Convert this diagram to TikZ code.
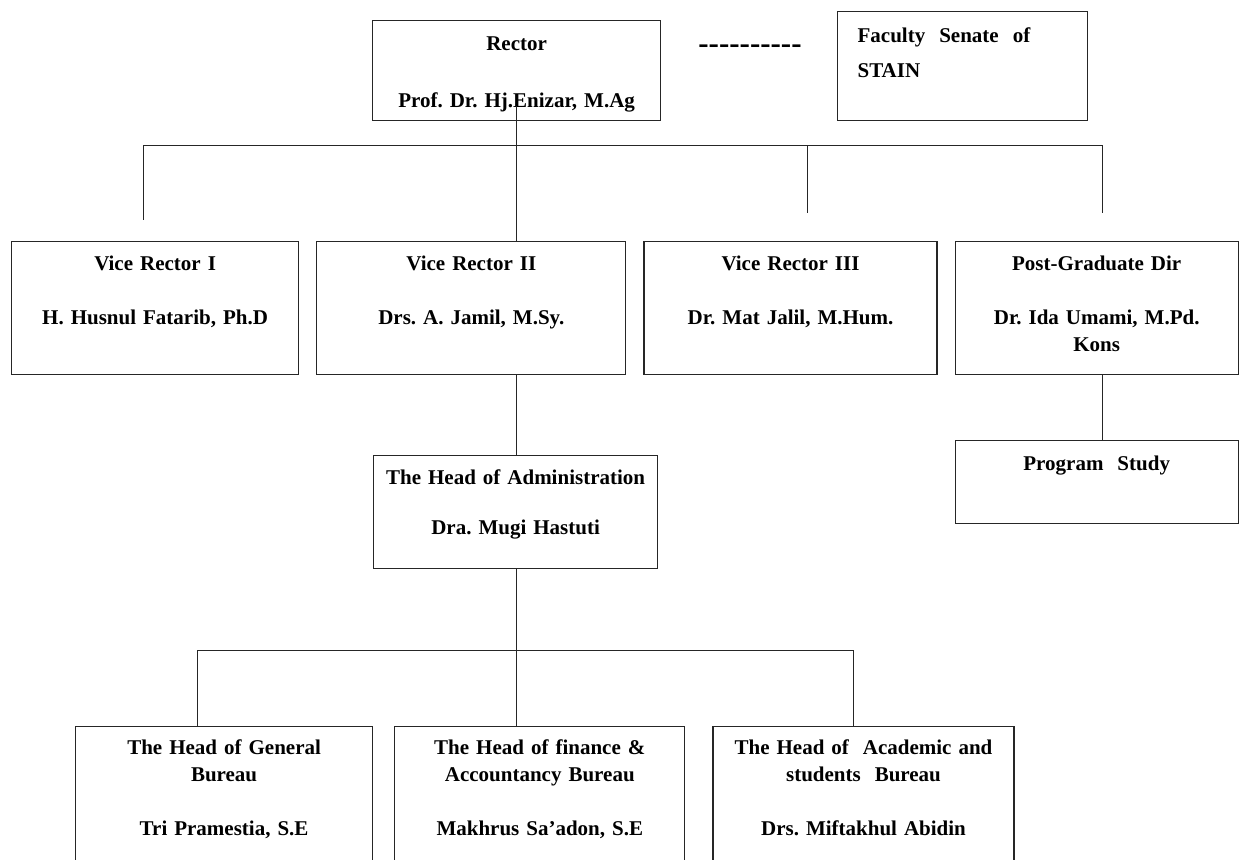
\documentclass[tikz,border=0pt]{standalone}
\usepackage{fontspec}
\setmainfont{Liberation Serif}
\usetikzlibrary{positioning}

\begin{document}
\begin{tikzpicture}[
    x=0.5pt,y=-0.5pt,
    node distance=8pt,
    box/.style={draw=black!85,line width=0.6pt,inner xsep=4pt,inner ysep=0pt,
                align=center,font=\fontsize{10.5}{13.5}\selectfont\bfseries\frenchspacing},
    vrbox/.style={box,text height=14.5pt,text depth=52pt},
    lowbox/.style={box,text height=14pt,text depth=80pt},
    link/.style={draw=black!85,line width=0.5pt}
  ]
    \clip (0,0) rectangle (1242,859);

    % rector and senate
    \node[box,anchor=north west,text width=136pt,text height=15pt,text depth=35pt] (rector) at (372,20)
          {Rector\\[15pt]Prof. Dr. Hj.Enizar, M.Ag};
    \node[box,anchor=north west,align=left,inner xsep=10pt,text width=105pt,
          text height=15.5pt,text depth=39pt] (senate) at (837,11)
          {Faculty~ Senate~ of\\[4pt]STAIN};
    \node[font=\fontsize{15.5}{16}\selectfont\bfseries] (dashes) at (750,49) {-{}-{}-{}-{}-{}-{}-{}-{}-{}-};

    % vice rectors
    \node[vrbox,anchor=north west,text width=135.5pt] (vr1) at (11,241)
          {Vice Rector I\\[13.5pt]H. Husnul Fatarib, Ph.D};
    \node[vrbox,text width=146.5pt,right=8.5pt of vr1] (vr2)
          {Vice Rector II\\[13.5pt]Drs. A. Jamil, M.Sy.};
    \node[vrbox,text width=138.5pt,right=8.5pt of vr2] (vr3)
          {Vice Rector III\\[13.5pt]Dr. Mat Jalil, M.Hum.};
    \node[vrbox,text width=133.5pt,right=8.5pt of vr3] (pgd)
          {Post-Graduate Dir\\[13.5pt]Dr. Ida Umami, M.Pd.\\Kons};
    \node[box,text width=133.5pt,text height=15pt,text depth=26.5pt,below=32.5pt of pgd] (prog)
          {Program~ Study};

    % administration
    \node[box,anchor=north west,text width=134pt,text height=14.5pt,text depth=42pt] (admin) at (373,455)
          {The Head of Administration\\[11.5pt]Dra. Mugi Hastuti};

    % bureaus
    \node[lowbox,anchor=north west,text width=140.5pt] (gen) at (75,726)
          {The Head of General\\Bureau\\[13.5pt]Tri Pramestia, S.E};
    \node[lowbox,text width=137pt,right=10.5pt of gen] (fin)
          {The Head of finance \&\\Accountancy Bureau\\[13.5pt]Makhrus Sa’adon, S.E};
    \node[lowbox,text width=142.5pt,right=13.5pt of fin] (aca)
          {The Head of~ Academic and\\students~ Bureau\\[13.5pt]Drs. Miftakhul Abidin};

    % connectors
    \coordinate (busL) at (143,145);
    \coordinate (busR) at (1102,145);
    \coordinate (d1) at (143,220);
    \coordinate (d3) at (807,213);
    \coordinate (d4) at (1102,213);
    \coordinate (b1) at (197,650);
    \coordinate (b3) at (853,650);
    \draw[link] (busL) -- (busR);
    \draw[link] (busL) -- (d1);
    \draw[link] (d3 |- busL) -- (d3);
    \draw[link] (busR) -- (d4);
    \draw[link] ([yshift=7.5pt]rector.south) -- (rector.south |- vr2.north);
    \draw[link] (rector.south |- vr2.south) -- (rector.south |- admin.north);
    \draw[link] (rector.south |- admin.south) -- (rector.south |- fin.north);
    \draw[link] (d4 |- pgd.south) -- (d4 |- prog.north);
    \draw[link] (b1) -- (b3);
    \draw[link] (b1) -- (b1 |- gen.north);
    \draw[link] (b3) -- (b3 |- aca.north);
\end{tikzpicture}
\end{document}
